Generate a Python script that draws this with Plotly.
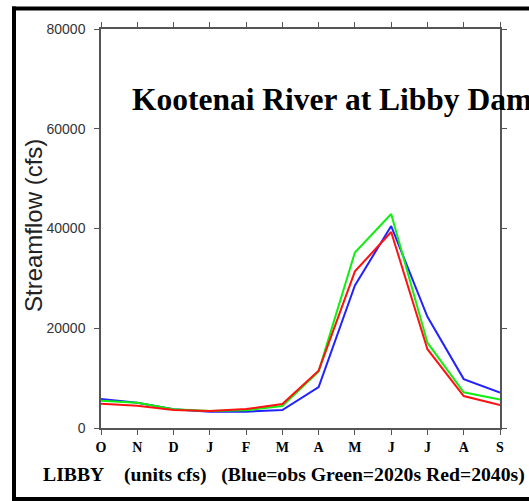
import plotly.graph_objects as go

months = ["O", "N", "D", "J", "F", "M", "A", "M", "J", "J", "A", "S"]
obs = [5800, 5050, 3750, 3270, 3270, 3600, 8200, 28600, 40500, 22300, 9800, 7100]
f2020s = [5450, 5050, 3750, 3400, 3550, 4400, 11350, 35200, 42900, 17100, 7150, 5700]
f2040s = [4850, 4450, 3600, 3400, 3800, 4800, 11500, 31400, 39300, 15800, 6400, 4600]
yticks = [0, 20000, 40000, 60000, 80000]

W, H = 529, 501
L, R, T, B = 101, 500, 29, 428

def px(x):
    return (x - L) / (R - L)

def py(y):
    return (B - y) / (B - T)

xs = list(range(len(months)))
fig = go.Figure()
for vals, col in [(obs, "#2222ff"), (f2020s, "#11ee11"), (f2040s, "#ff1111")]:
    fig.add_trace(go.Scatter(x=xs, y=vals, mode="lines",
                             line=dict(color=col, width=2), showlegend=False))

fig.update_layout(
    width=W, height=H,
    margin=dict(l=L, r=W - R, t=T, b=H - B),
    paper_bgcolor="white", plot_bgcolor="white",
    xaxis=dict(range=[0, 11], tickvals=xs, ticktext=months,
               showgrid=False, zeroline=False, showline=True,
               linecolor="#555", linewidth=1.5, mirror="ticks",
               ticks="outside", ticklen=5, tickcolor="#555", tickwidth=1,
               tickfont=dict(family="Liberation Serif", size=14, color="black", weight="bold")),
    yaxis=dict(range=[0, 80000], tickvals=yticks, ticktext=[str(v) for v in yticks],
               showgrid=False, zeroline=False, showline=True,
               linecolor="#555", linewidth=1.5, mirror="ticks",
               ticks="outside", ticklen=5, tickcolor="#555", tickwidth=1,
               ticklabelstandoff=6,
               tickfont=dict(family="Liberation Sans", size=14, color="#333")),
)

# outer frame: left, top, bottom edges (right edge lies outside the picture)
for (xa, ya, xb, yb) in [(14, 6.5, 14, 500.5), (12, 8.5, 560, 8.5), (12, 499, 560, 499)]:
    fig.add_shape(type="line", xref="paper", yref="paper",
                  x0=px(xa), y0=py(ya), x1=px(xb), y1=py(yb),
                  line=dict(color="black", width=4))

fig.add_annotation(text="Kootenai River at Libby Dam", xref="paper", yref="paper",
                   x=px(130), y=py(99), xanchor="left", yanchor="middle",
                   showarrow=False,
                   font=dict(family="Liberation Serif", size=31.5, color="black", weight="bold"))
fig.add_annotation(text="Streamflow (cfs)", xref="paper", yref="paper",
                   x=px(33), y=py(226), xanchor="center", yanchor="middle",
                   textangle=-90, showarrow=False,
                   font=dict(family="Liberation Sans", size=24, color="#222"))
fig.add_annotation(text="LIBBY&nbsp;&nbsp;&nbsp;&nbsp;(units cfs)&nbsp;&nbsp;&nbsp;(Blue=obs Green=2020s Red=2040s)",
                   xref="paper", yref="paper",
                   x=px(41), y=py(474), xanchor="left", yanchor="middle",
                   showarrow=False,
                   font=dict(family="Liberation Serif", size=19.7, color="black", weight="bold"))

fig.write_html("out.html")
